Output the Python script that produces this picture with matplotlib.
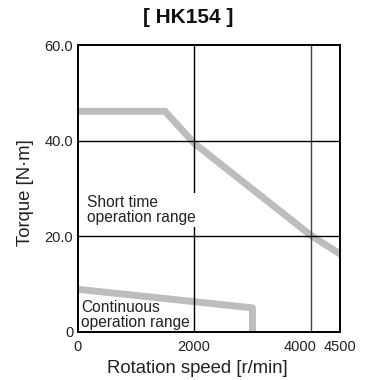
import matplotlib
matplotlib.use("Agg")
import matplotlib.pyplot as plt
import matplotlib.transforms as mtransforms

plt.rcParams["font.family"] = ["Liberation Sans", "DejaVu Sans"]

# short time operation range boundary
short_speed = [0, 1500, 2000, 4000, 4500]
short_torque = [46.2, 46.2, 39.5, 20.2, 16.3]

# continuous operation range boundary
cont_speed = [0, 3000, 3000]
cont_torque = [8.9, 5.0, 0]

x_ticks = [0, 2000, 4000, 4500]
x_labels = ["0", "2000", "4000", "4500"]
y_ticks = [0, 20, 40, 60]
y_labels = ["0", "20.0", "40.0", "60.0"]
grid_x = [2000, 4000]
grid_y = [20, 40]

fig = plt.figure(figsize=(3.71, 3.80), dpi=100)
ax = fig.add_axes([0.2089, 0.1271, 0.7075, 0.7532])
ax.set_xlim(0, 4500)
ax.set_ylim(0, 60)

line_col = "#bdbdbd"
ax.plot(short_speed, short_torque, color=line_col, lw=5, solid_joinstyle="miter", zorder=2)
ax.plot(cont_speed, cont_torque, color=line_col, lw=5, solid_joinstyle="round",
        solid_capstyle="butt", zorder=2)

ax.axvline(grid_x[0], color="black", lw=1.0, zorder=3)
ax.axvline(grid_x[1], color="#444444", lw=1.0, zorder=3)
for gy in grid_y:
  ax.axhline(gy, color="black", lw=1.0, zorder=3)

for s in ax.spines.values():
  s.set_linewidth(1.4)
  s.set_zorder(4)

ax.set_xticks(x_ticks)
ax.set_xticklabels(x_labels)
ax.set_yticks(y_ticks)
ax.set_yticklabels(y_labels)
ax.tick_params(length=0, labelsize=10.5, colors="#222222")
ax.tick_params(axis="x", pad=6)
ax.tick_params(axis="y", pad=3)

# 4000 label sits slightly left of its grid line
lab = ax.get_xticklabels()[2]
lab.set_transform(lab.get_transform() + mtransforms.ScaledTranslation(-11 / 100, 0, fig.dpi_scale_trans))

ax.set_xlabel("Rotation speed [r/min]", fontsize=13.3, color="#222222", labelpad=4)
ax.xaxis.set_label_coords(0.457, -0.098)
ax.set_ylabel("Torque [N·m]", fontsize=13.3, color="#222222")
ax.yaxis.set_label_coords(-0.165, 0.487)

ax.text(170, 25.5, "Short time\noperation range", fontsize=11.2, color="#222222",
        ha="left", va="center", linespacing=1.05, zorder=5,
        bbox=dict(facecolor="white", edgecolor="none", pad=1.5))
ax.text(60, 0.4, "Continuous\noperation range", fontsize=11.2, color="#222222",
        ha="left", va="bottom", linespacing=0.95, zorder=5)

fig.text(0.507, 0.955, "[ HK154 ]", fontsize=15, fontweight="bold", ha="center", va="center",
         color="#111111")

fig.savefig("out.png", dpi=100)
